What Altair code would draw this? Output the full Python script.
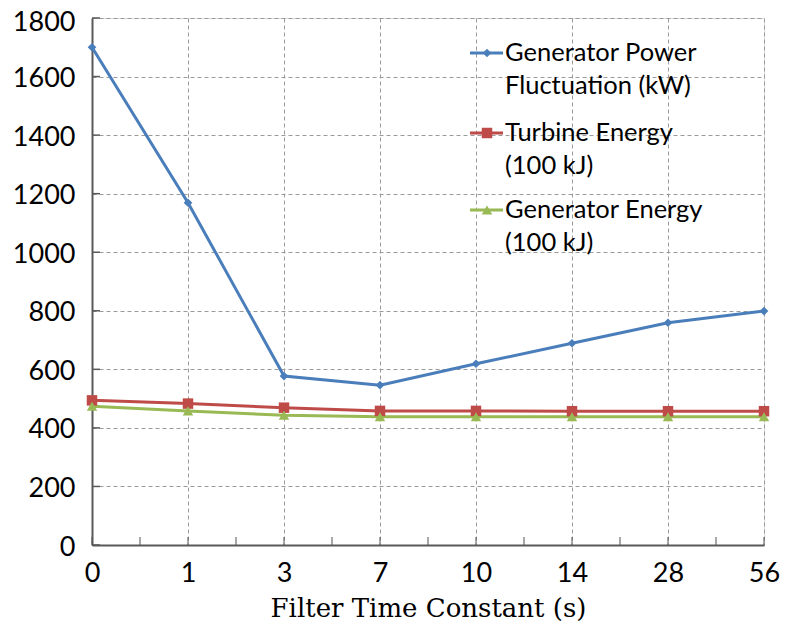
import altair as alt
import pandas as pd

# ---- data ----
categories = ["0", "1", "3", "7", "10", "14", "28", "56"]
gen_power = [1700, 1169, 577, 546, 619, 689, 759, 799]
turbine_energy = [494, 483, 469, 458, 458, 457, 457, 457]
gen_energy = [474, 458, 443, 438, 438, 438, 438, 438]
series_names = ["Generator Power Fluctuation (kW)", "Turbine Energy (100 kJ)", "Generator Energy (100 kJ)"]
legend_lines = [["Generator Power", "Fluctuation (kW)"], ["Turbine Energy", "(100 kJ)"], ["Generator Energy", "(100 kJ)"]]
y_ticks = [0, 200, 400, 600, 800, 1000, 1200, 1400, 1600, 1800]

colors = ["#4A7EBB", "#BE4B48", "#98B954"]
shapes = ["diamond", "square", "triangle-up"]
sizes = [75, 110, 110]

W, H = 672, 527

rows = []
for name, vals in zip(series_names, [gen_power, turbine_energy, gen_energy]):
    for i, (c, v) in enumerate(zip(categories, vals)):
        rows.append({"series": name, "idx": i, "cat": c, "value": v})
df = pd.DataFrame(rows)

label_expr = "[" + ",".join("'%s'" % c for c in categories) + "][datum.value]"

x_scale = alt.Scale(domain=[0, len(categories) - 1], nice=False, zero=False)
y_scale = alt.Scale(domain=[0, 1800], nice=False)

x_axis = alt.Axis(values=list(range(len(categories))), labelExpr=label_expr, title="Filter Time Constant (s)",
                  grid=True, gridDash=[4, 3], gridColor="#9A9A9A", gridWidth=1,
                  ticks=False, domainColor="#595959", domainWidth=2,
                  labelFont="Lato", labelFontSize=27, labelColor="#000", labelPadding=15,
                  labelFlush=False,
                  titleFont="DejaVu Serif", titleFontSize=26, titleFontWeight="normal",
                  titleColor="#000", titlePadding=9)
y_axis = alt.Axis(values=y_ticks, format="d", title=None, grid=True, gridDash=[4, 3], gridColor="#9A9A9A", gridWidth=1,
                  ticks=False, domainColor="#595959", domainWidth=2,
                  labelOffset={"condition": {"test": "datum.value == 1800", "value": 4}, "value": 2},
                  labelFont="Lato", labelFontSize=27, labelColor="#000", labelPadding=17)

color_scale = alt.Scale(domain=series_names, range=colors)

base = alt.Chart(df).encode(
    x=alt.X("idx:Q", scale=x_scale, axis=x_axis),
    y=alt.Y("value:Q", scale=y_scale, axis=y_axis),
    color=alt.Color("series:N", scale=color_scale, legend=None),
)
lines = base.mark_line(strokeWidth=3)

pts = []
for name, shp, sz, col in zip(series_names, shapes, sizes, colors):
    pts.append(alt.Chart(df[df.series == name]).mark_point(shape=shp, size=sz, filled=True, opacity=1, color=col).encode(
        x=alt.X("idx:Q", scale=x_scale), y=alt.Y("value:Q", scale=y_scale)))

# inward tick marks
xt = pd.DataFrame({"pos": [i / 2 for i in range(2 * (len(categories) - 1) + 1)]})
xticks = alt.Chart(xt).mark_tick(orient="vertical", size=8, thickness=1.5, color="#595959", yOffset=-4).encode(
    x=alt.X("pos:Q", scale=x_scale), y=alt.datum(0, scale=y_scale))
yt = pd.DataFrame({"v": y_ticks})
yticks = alt.Chart(yt).mark_rule(color="#595959", strokeWidth=1.5).encode(
    y=alt.Y("v:Q", scale=y_scale), x=alt.value(0), x2=alt.value(8))

# manual legend
legend_y = [35, 115, 192]
line_gap = 33
leg_layers = []
for i in range(3):
    yy = legend_y[i]
    ld = pd.DataFrame({"k": [0]})
    leg_layers.append(alt.Chart(ld).mark_rule(color=colors[i], strokeWidth=3).encode(
        x=alt.value(378), x2=alt.value(411), y=alt.value(yy)))
    leg_layers.append(alt.Chart(ld).mark_point(shape=shapes[i], size=sizes[i], filled=True, opacity=1, color=colors[i]).encode(
        x=alt.value(395), y=alt.value(yy)))
    for j, txt in enumerate(legend_lines[i]):
        td = pd.DataFrame({"t": [txt]})
        leg_layers.append(alt.Chart(td).mark_text(align="left", baseline="middle", font="Lato", fontSize=25.5, color="#000").encode(
            text="t:N", x=alt.value(413), y=alt.value(yy + j * line_gap)))

chart = alt.layer(lines, *pts, xticks, yticks, *leg_layers).properties(
    width=W, height=H,
    autosize=alt.AutoSizeParams(type="none"),
    padding={"left": 84, "top": 10, "right": 16, "bottom": 85},
).configure_view(stroke=None).configure(background="white")

chart.save("out.html", embed_options={"renderer": "svg", "actions": False})
